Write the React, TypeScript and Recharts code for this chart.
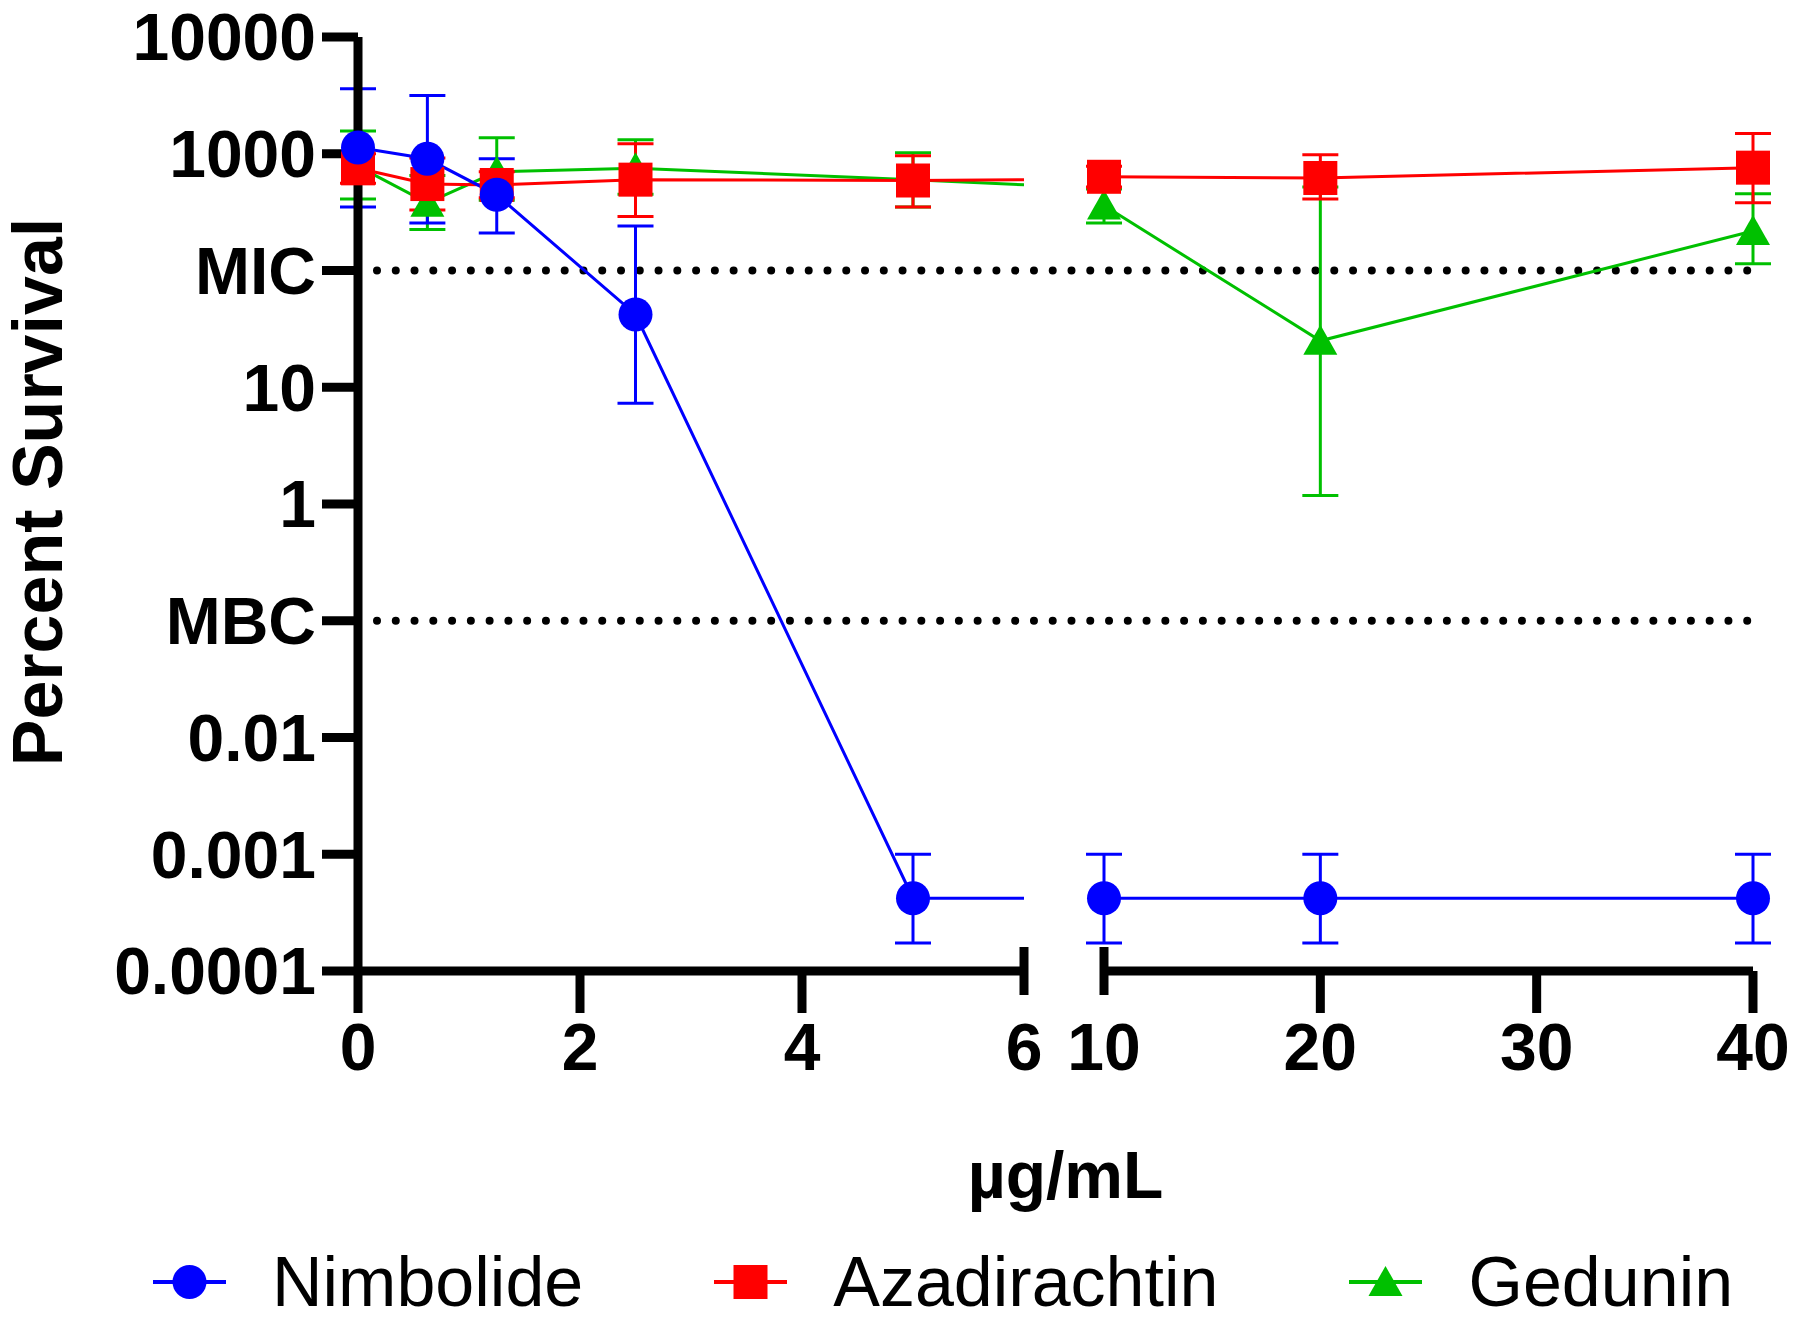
import React from "react";
import { LineChart, Line, XAxis, YAxis, ErrorBar, ReferenceLine, Legend } from "recharts";

const FONT = '"Liberation Sans", Arial, Helvetica, sans-serif';
const W = 1800;
const H = 1319;

// doses in µg/mL, x axis is broken between 6 and 10
const doses = [0, 0.625, 1.25, 2.5, 5, 10, 20, 40];
const leftTicks = [0, 2, 4, 6];
const rightTicks = [10, 20, 30, 40];

const yTicks = [0.0001, 0.001, 0.01, 0.1, 1, 10, 100, 1000, 10000];
const yTickLabels = ["0.0001", "0.001", "0.01", "MBC", "1", "10", "MIC", "1000", "10000"];
const micLevel = 100;
const mbcLevel = 0.1;

// percent survival, mean and error bar ends
const nimbolide = [1130, 905, 445, 42, 0.00042, 0.00042, 0.00042, 0.00042];
const nimbolideLow = [350, 255, 210, 7.3, 0.000174, 0.000174, 0.000174, 0.000174];
const nimbolideHigh = [3600, 3150, 905, 240, 0.001, 0.001, 0.001, 0.001];

const azadirachtin = [750, 550, 540, 600, 590, 635, 620, 760];
const azadirachtinLow = [560, 330, 420, 290, 350, 520, 410, 380];
const azadirachtinHigh = [1000, 920, 700, 1220, 960, 780, 980, 1490];

const gedunin = [780, 380, 700, 750, 600, 360, 25, 218];
const geduninLow = [410, 225, 400, 450, 350, 255, 1.18, 114];
const geduninHigh = [1570, 650, 1370, 1320, 1020, 500, 520, 455];

type Shape = "circle" | "square" | "triangle";
type Series = { name: string; color: string; shape: Shape; mean: number[]; low: number[]; high: number[] };

const series: Series[] = [
  { name: "Nimbolide", color: "#0000ff", shape: "circle", mean: nimbolide, low: nimbolideLow, high: nimbolideHigh },
  { name: "Azadirachtin", color: "#ff0000", shape: "square", mean: azadirachtin, low: azadirachtinLow, high: azadirachtinHigh },
  { name: "Gedunin", color: "#00c000", shape: "triangle", mean: gedunin, low: geduninLow, high: geduninHigh },
];
// blue on top
const drawOrder = [...series].reverse();

const toRows = (s: Series) =>
  doses.map((x, i) => ({ x, y: s.mean[i], err: [s.mean[i] - s.low[i], s.high[i] - s.mean[i]] }));

const Marker = ({ cx, cy, shape, color }: { cx?: number; cy?: number; shape: Shape; color: string }) => {
  if (cx == null || cy == null || isNaN(cx) || isNaN(cy)) return null;
  if (shape === "circle") return <circle cx={cx} cy={cy} r={17} fill={color} />;
  if (shape === "square") return <rect x={cx - 17} y={cy - 17} width={34} height={34} fill={color} />;
  return <path d={`M${cx},${cy - 16} L${cx + 17},${cy + 14} L${cx - 17},${cy + 14} Z`} fill={color} />;
};

const TICK = 42;
const TICK_GAP = 10;
const breakTicks = [leftTicks[leftTicks.length - 1], rightTicks[0]];

const XTick = (props: any) => {
  const { x, y, payload } = props;
  const axisY = y - TICK - TICK_GAP;
  const isBreak = breakTicks.includes(payload.value);
  return (
    <g>
      <line
        x1={x}
        x2={x}
        y1={isBreak ? axisY - 24 : axisY}
        y2={isBreak ? axisY + 24 : axisY + TICK}
        stroke="#000"
        strokeWidth={9}
      />
      <text x={x} y={y} dy="0.71em" textAnchor="middle" fontSize={66} fontWeight={700} fontFamily={FONT} fill="#000">
        {payload.value}
      </text>
    </g>
  );
};

const YTitle = (props: any) => {
  const vb = props.viewBox || { x: 0, y: 0, height: 0 };
  const cx = vb.x + 62;
  const cy = vb.y + vb.height / 2 - 12;
  return (
    <text x={cx} y={cy} transform={`rotate(-90, ${cx}, ${cy})`} textAnchor="middle" fontSize={70} fontWeight={700} fontFamily={FONT} fill="#000">
      Percent Survival
    </text>
  );
};

const XTitle = (props: any) => {
  const vb = props.viewBox || { x: 0, y: 0, width: 0 };
  return (
    <text x={vb.x + vb.width / 2 + 3} y={vb.y + 227} textAnchor="middle" fontSize={66} fontWeight={700} fontFamily={FONT} fill="#000">
      µg/mL
    </text>
  );
};

const LegendBox = () => (
  <div style={{ display: "flex", alignItems: "center", paddingLeft: 153, gap: 131, height: 84, fontFamily: FONT, fontSize: 70, color: "#000" }}>
    {series.map((s) => (
      <div key={s.name} style={{ display: "flex", alignItems: "center" }}>
        <svg width={73} height={40}>
          <line x1={0} x2={73} y1={20} y2={20} stroke={s.color} strokeWidth={4} />
          <Marker cx={36.5} cy={20} shape={s.shape} color={s.color} />
        </svg>
        <span style={{ marginLeft: 46, lineHeight: 1 }}>{s.name}</span>
      </div>
    ))}
  </div>
);

const yLabel = (v: number) => {
  const i = yTicks.indexOf(v);
  return i >= 0 ? yTickLabels[i] : "";
};

const layer: React.CSSProperties = { position: "absolute", left: 0, top: 0 };
const logDomain: [number, number] = [0.0001, 10000];

const seriesLines = (from: number, to: number) =>
  drawOrder.map((s) => (
    <Line
      key={s.name}
      data={toRows(s).slice(from, to)}
      dataKey="y"
      name={s.name}
      stroke={s.color}
      strokeWidth={3}
      isAnimationActive={false}
      activeDot={false}
      dot={(p: any) => <Marker key={`${s.name}-${p.index}`} cx={p.cx} cy={p.cy} shape={s.shape} color={s.color} />}
    >
      <ErrorBar dataKey="err" direction="y" width={18} strokeWidth={3} stroke={s.color} isAnimationActive={false} />
    </Line>
  ));

const dotted = { stroke: "#000", strokeWidth: 8, strokeDasharray: "0 18.77", strokeLinecap: "round" as const };

export default function App() {
  return (
    <div style={{ position: "absolute", left: 0, top: 0, width: W, height: H, background: "#fff" }}>
      {/* MIC / MBC lines, x title and legend */}
      <div style={layer}>
        <LineChart width={W} height={H} data={toRows(series[1])} margin={{ top: 37, right: 52, bottom: 228, left: 377 }}>
          <XAxis type="number" dataKey="x" domain={[10, 40]} height={120} axisLine={false} tickLine={false} tick={false} label={{ content: XTitle }} />
          <YAxis hide scale="log" type="number" domain={logDomain} />
          <Line dataKey="y" stroke="none" dot={false} activeDot={false} legendType="none" isAnimationActive={false} />
          <ReferenceLine y={micLevel} ifOverflow="visible" {...dotted} />
          <ReferenceLine y={mbcLevel} ifOverflow="visible" {...dotted} />
          <Legend layout="vertical" align="center" verticalAlign="middle" wrapperStyle={{ left: 0, top: 1240, width: W, height: 84 }} content={LegendBox} />
        </LineChart>
      </div>

      {/* the 5 -> 10 segments, clipped at the break */}
      <div style={layer}>
        <LineChart width={W} height={H} margin={{ top: 37, right: 776, bottom: 348, left: 358 }}>
          <XAxis hide type="number" dataKey="x" domain={[0, 6]} allowDataOverflow />
          <YAxis hide scale="log" type="number" domain={logDomain} />
          {drawOrder.map((s) => (
            <Line key={s.name} data={toRows(s).slice(4, 6)} dataKey="y" stroke={s.color} strokeWidth={3} dot={false} activeDot={false} isAnimationActive={false} />
          ))}
        </LineChart>
      </div>

      {/* left segment 0-6 */}
      <div style={layer}>
        <LineChart width={W} height={H} margin={{ top: 37, right: 776, bottom: 228, left: 0 }}>
          <XAxis
            type="number"
            dataKey="x"
            domain={[0, 6]}
            ticks={leftTicks}
            interval={0}
            height={120}
            tickSize={TICK}
            tickMargin={TICK_GAP}
            tickLine={false}
            axisLine={{ stroke: "#000", strokeWidth: 9 }}
            tick={(p: any) => <XTick {...p} />}
          />
          <YAxis
            width={358}
            scale="log"
            type="number"
            domain={logDomain}
            ticks={yTicks}
            interval={0}
            tickSize={36}
            tickMargin={6}
            tickLine={{ stroke: "#000", strokeWidth: 9 }}
            axisLine={{ stroke: "#000", strokeWidth: 9 }}
            tick={{ fontSize: 66, fontWeight: 700, fill: "#000", fontFamily: FONT }}
            tickFormatter={yLabel}
            label={{ content: YTitle }}
          />
          {seriesLines(0, 5)}
        </LineChart>
      </div>

      {/* right segment 10-40 */}
      <div style={layer}>
        <LineChart width={W} height={H} margin={{ top: 37, right: 47, bottom: 228, left: 1104 }}>
          <XAxis
            type="number"
            dataKey="x"
            domain={[10, 40]}
            ticks={rightTicks}
            interval={0}
            height={120}
            tickSize={TICK}
            tickMargin={TICK_GAP}
            tickLine={false}
            axisLine={{ stroke: "#000", strokeWidth: 9 }}
            tick={(p: any) => <XTick {...p} />}
          />
          <YAxis hide scale="log" type="number" domain={logDomain} />
          {seriesLines(5, 8)}
        </LineChart>
      </div>
    </div>
  );
}
